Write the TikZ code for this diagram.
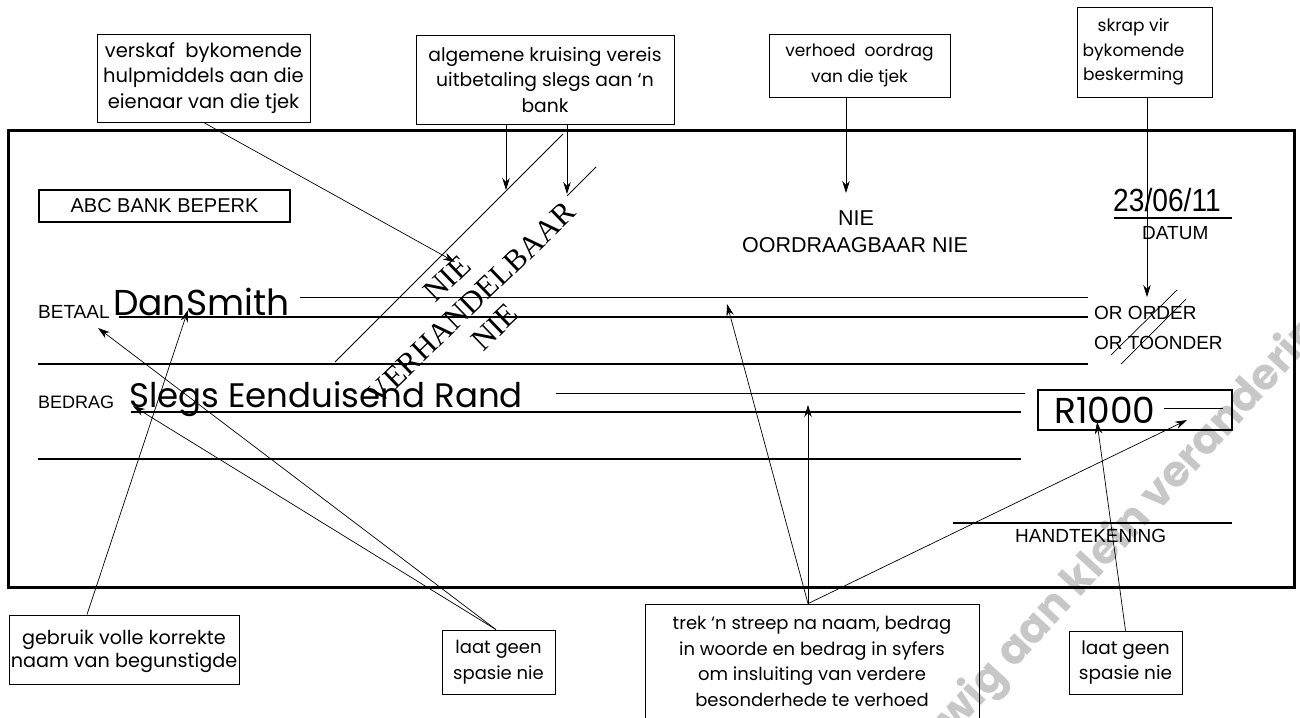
\documentclass[tikz,border=0pt]{standalone}
\usepackage{fontspec}
\usetikzlibrary{arrows.meta}
\newfontfamily\popf{Poppins}
\newfontfamily\libf{Liberation Sans}
\newfontfamily\libn[FakeStretch=0.88]{Liberation Sans}
\newfontfamily\tmsf{Liberation Serif}
\newcommand\cfs[1]{\popf\fontsize{#1}{25.5}\selectfont}
\begin{document}
\begin{tikzpicture}[x=1pt,y=-1pt,
  callout/.style={draw, line width=0.8pt, inner sep=0pt},
  calltext/.style={font=\cfs{17}, align=center, inner sep=0pt},
  conn/.style={line width=0.7pt, -{Stealth[length=12pt,width=7.5pt]}},
  formlabel/.style={font=\libf\fontsize{19}{22}\selectfont, anchor=base west, inner sep=0pt},
  hand/.style={font=\popf\fontsize{36}{40}\selectfont, anchor=base west, inner sep=0pt},
  thickrule/.style={line width=2.5pt},
  thinrule/.style={line width=0.9pt},
]
\useasboundingbox (0,0) rectangle (1300,717);
\fill[white] (0,0) rectangle (1300,717);

% watermark
\begin{scope}
\clip (0,0) rectangle (1300,717);
\node[rotate=47.5, anchor=base west, inner sep=0pt, text=black!22,
      font=\popf\bfseries\fontsize{43}{43}\selectfont] (wm) at (1014,670)
      {\llap{Onderhewig }aan klein veranderinge};
\end{scope}

% cheque frame
\draw[line width=3pt] (8,130) rectangle (1294,587);

% form rules
\draw[thinrule] (300,297) -- (1088,297);
\draw[thickrule] (119,317) -- (1088,317);
\draw[thickrule] (38,364) -- (1088,364);
\draw[thinrule] (556,393) -- (1025,393);
\draw[thickrule] (131,412) -- (1021,412);
\draw[thickrule] (38,459) -- (1021,459);
\draw[thickrule] (953,523) -- (1232,523);
\draw[thickrule] (1114,218) -- (1232,218);

% crossing lines
\draw[line width=0.8pt] (563,134) -- (335,362);
\draw[line width=0.8pt] (596,167) -- (567,196);

% strike-through of OR ORDER / OR TOONDER
\draw[line width=0.7pt] (1111,355) -- (1177,290);
\draw[line width=0.7pt] (1121,364) -- (1186,299);

% form texts
\node[draw, line width=2.5pt, minimum width=251pt, minimum height=32pt, inner sep=0pt,
      font=\libf\fontsize{20}{22}\selectfont] (bank) at (164.5,206) {ABC BANK BEPERK};
\node[formlabel] (betaal) at (38,318) {BETAAL};
\node[formlabel, font=\libf\fontsize{18}{22}\selectfont] (bedrag) at (38,408) {BEDRAG};
\node[hand] (name) at (113,315) {DanSmith};
\node[hand, font=\popf\fontsize{34}{40}\selectfont] (words) at (129,407) {Slegs Eenduisend Rand};
\node[draw, line width=2.5pt, minimum width=194pt, minimum height=40pt, inner sep=0pt] (amtbox) at (1135,410) {};
\node[hand] (amount) at (1054,423) {R1000};
\draw[thinrule] (1164,408) -- (1223,408);
\node[formlabel, font=\libn\fontsize{32}{34}\selectfont] (date) at (1113,211) {23/06/11};
\node[formlabel] (datum) at (1142,239) {DATUM};
\node[formlabel, font=\libf\fontsize{21.5}{24}\selectfont, anchor=base] (nie1) at (856,225) {NIE};
\node[formlabel, font=\libf\fontsize{21.5}{24}\selectfont] (oordr) at (742,252) {OORDRAAGBAAR NIE};
\node[formlabel] (order) at (1094,319) {OR ORDER};
\node[formlabel] (toonder) at (1094,349) {OR TOONDER};
\node[formlabel] (sign) at (1015,542) {HANDTEKENING};
\node[rotate=44, font=\tmsf\fontsize{31}{34}\selectfont, align=center, inner sep=0pt] (cross) at (471,303)
      {NIE\\VERHANDELBAAR\\NIE};

% callout boxes
\node[callout, minimum width=213pt, minimum height=88pt] (box1) at (203.5,78) {};
\node[calltext, font=\cfs{19.5}] (box1t) at (box1.center) {verskaf\ \ bykomende\\hulpmiddels aan die\\eienaar van die tjek};
\node[callout, minimum width=258pt, minimum height=89pt] (box2) at (545,79.5) {};
\node[calltext, font=\cfs{18.7}] (box2t) at (box2.center) {algemene kruising vereis\\uitbetaling slegs aan ‘n\\bank};
\node[callout, minimum width=181pt, minimum height=63pt] (box3) at (859.5,65.5) {};
\node[calltext] (box3t) at (box3.center) {verhoed\ \ oordrag\\van die tjek};
\node[callout, minimum width=135pt, minimum height=90pt] (box4) at (1144.5,52) {};
\node[calltext, font=\popf\fontsize{17}{24.5}\selectfont] (box4t) at ([xshift=-11pt]box4.center) {skrap vir\\bykomende\\beskerming};
\node[callout, minimum width=230pt, minimum height=69pt] (box5) at (124,649.5) {};
\node[calltext, font=\popf\fontsize{19.2}{22.5}\selectfont] (box5t) at ([yshift=-2pt]box5.center) {gebruik volle korrekte\\naam van begunstigde};
\node[callout, minimum width=113pt, minimum height=64pt] (box6) at (498.5,662) {};
\node[calltext, font=\cfs{18}] (box6t) at (box6.center) {laat geen\\spasie nie};
\node[callout, minimum width=334pt, minimum height=126pt] (box7) at (812,667) {};
\node[calltext, font=\cfs{18}] (box7t) at (812,661.5) {trek ‘n streep na naam, bedrag\\in woorde en bedrag in syfers\\om insluiting van verdere\\besonderhede te verhoed};
\node[callout, minimum width=113pt, minimum height=63pt] (box8) at (1125.5,662.5) {};
\node[calltext, font=\cfs{18.5}] (box8t) at (box8.center) {laat geen\\spasie nie};

% arrow targets
\coordinate (tipNie) at (455,262);
\coordinate (tipCrossA) at (506,190);
\coordinate (tipCrossB) at (567,194);
\coordinate (tipNO) at (846,193);
\coordinate (tipOrder) at (1147,297);
\coordinate (tipName) at (188,310);
\coordinate (tipBetaal) at (98,328);
\coordinate (tipBedrag) at (133,406);
\coordinate (tipLineA) at (727,304);
\coordinate (tipLineD) at (808,405);
\coordinate (tipDash) at (1187,420);
\coordinate (tipR) at (1097,422);

% connectors
\draw[conn] (box1.south) -- (tipNie);
\draw[conn] ([xshift=-39pt]box2.south) -- (tipCrossA);
\draw[conn] ([xshift=22pt]box2.south) -- (tipCrossB);
\draw[conn] ([xshift=-13.5pt]box3.south) -- (tipNO);
\draw[conn] ([xshift=2.5pt]box4.south) -- (tipOrder);
\draw[conn] ([xshift=-37pt]box5.north) -- (tipName);
\draw[conn] ([xshift=-2.5pt]box6.north) -- (tipBetaal);
\draw[conn] ([xshift=-2.5pt]box6.north) -- (tipBedrag);
\draw[conn] ([xshift=-4pt]box7.north) -- (tipLineA);
\draw[conn] ([xshift=-4pt]box7.north) -- (tipLineD);
\draw[conn] ([xshift=-4pt]box7.north) -- (tipDash);
\draw[conn] (box8.north) -- (tipR);
\end{tikzpicture}
\end{document}
